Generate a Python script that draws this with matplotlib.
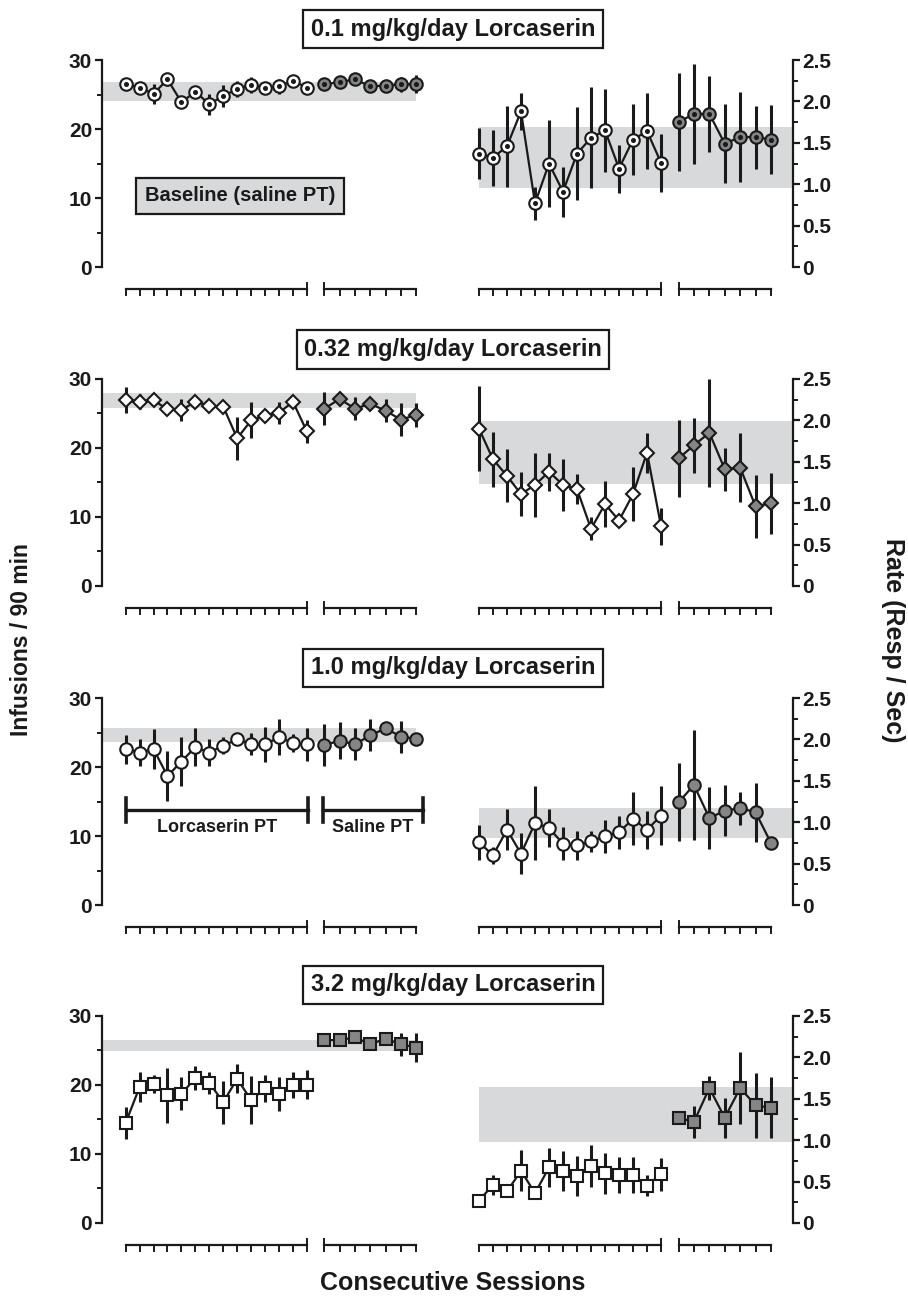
import numpy as np
import matplotlib
matplotlib.use("Agg")
import matplotlib.pyplot as plt

plt.rcParams['font.family'] = ['Liberation Sans', 'DejaVu Sans']
plt.rcParams['font.weight'] = 'bold'

# ---- data ----
titles = ["0.1 mg/kg/day Lorcaserin", "0.32 mg/kg/day Lorcaserin",
          "1.0 mg/kg/day Lorcaserin", "3.2 mg/kg/day Lorcaserin"]
markers = ['o', 'D', 'o', 's']

# infusions, lorcaserin PT (14 sessions) and saline PT (7 sessions)
inf_lorc = [
    [26.5, 26.0, 25.1, 27.2, 23.9, 25.4, 23.6, 24.8, 25.8, 26.4, 26.0, 26.2, 27.0, 26.0],
    [26.9, 26.7, 26.9, 25.6, 25.5, 26.7, 26.1, 26.0, 21.4, 24.0, 24.7, 25.1, 26.7, 22.4],
    [22.6, 22.1, 22.6, 18.7, 20.8, 22.9, 22.1, 23.1, 24.0, 23.3, 23.3, 24.3, 23.5, 23.3],
    [14.5, 19.7, 20.2, 18.5, 18.7, 21.0, 20.3, 17.5, 20.9, 17.8, 19.5, 18.7, 20.0, 20.0],
]
inf_lorc_err = [
    [0.5, 0.6, 1.4, 0.9, 0.9, 0.8, 1.5, 1.6, 1.2, 1.2, 0.6, 1.1, 0.7, 0.6],
    [1.9, 1.1, 0.5, 0.8, 1.6, 0.5, 0.5, 0.5, 3.1, 2.6, 1.0, 1.6, 0.5, 1.7],
    [2.1, 2.0, 2.9, 3.6, 3.5, 2.8, 2.0, 1.2, 0.8, 1.6, 2.5, 2.6, 1.3, 2.4],
    [2.3, 2.2, 1.3, 4.0, 2.4, 1.7, 1.6, 3.1, 2.1, 3.5, 2.0, 2.5, 1.9, 2.1],
]
inf_sal = [
    [26.5, 26.8, 27.2, 26.2, 26.3, 26.5, 26.5],
    [25.7, 27.1, 25.7, 26.4, 25.4, 24.1, 24.8],
    [23.2, 23.8, 23.3, 24.6, 25.6, 24.4, 24.1],
    [26.5, 26.5, 26.9, 25.9, 26.7, 25.9, 25.4],
]
inf_sal_err = [
    [0.9, 0.5, 0.7, 0.5, 0.5, 1.1, 1.3],
    [2.4, 0.5, 1.7, 0.6, 1.7, 2.4, 1.7],
    [3.1, 2.7, 2.3, 2.3, 0.5, 2.3, 0.4],
    [0.3, 0.3, 0.4, 0.8, 0.8, 1.7, 2.1],
]
inf_band = [(24.05, 26.85), (25.8, 27.95), (23.7, 25.6), (24.9, 26.45)]

# response rate
rate_lorc = [
    [1.37, 1.32, 1.46, 1.88, 0.77, 1.25, 0.91, 1.37, 1.56, 1.65, 1.19, 1.54, 1.64, 1.26],
    [1.90, 1.53, 1.33, 1.11, 1.22, 1.38, 1.22, 1.17, 0.69, 0.99, 0.79, 1.11, 1.61, 0.72],
    [0.76, 0.60, 0.91, 0.62, 0.99, 0.93, 0.74, 0.72, 0.77, 0.83, 0.88, 1.04, 0.91, 1.08],
    [0.27, 0.46, 0.38, 0.63, 0.36, 0.67, 0.63, 0.57, 0.69, 0.60, 0.58, 0.58, 0.45, 0.59],
]
rate_lorc_err = [
    [0.31, 0.34, 0.49, 0.22, 0.20, 0.52, 0.30, 0.56, 0.61, 0.50, 0.29, 0.43, 0.46, 0.35],
    [0.51, 0.33, 0.32, 0.27, 0.39, 0.23, 0.31, 0.18, 0.14, 0.28, 0.08, 0.33, 0.24, 0.22],
    [0.21, 0.10, 0.25, 0.25, 0.45, 0.23, 0.20, 0.17, 0.13, 0.20, 0.20, 0.32, 0.23, 0.36],
    [0.08, 0.12, 0.05, 0.25, 0.06, 0.24, 0.24, 0.24, 0.25, 0.25, 0.22, 0.22, 0.13, 0.20],
]
rate_sal = [
    [1.75, 1.85, 1.85, 1.49, 1.57, 1.57, 1.54],
    [1.54, 1.70, 1.85, 1.41, 1.43, 0.96, 1.00],
    [1.24, 1.45, 1.05, 1.14, 1.17, 1.12, 0.75],
    [1.27, 1.22, 1.63, 1.27, 1.63, 1.42, 1.39],
]
rate_sal_err = [
    [0.59, 0.60, 0.46, 0.48, 0.54, 0.38, 0.42],
    [0.46, 0.33, 0.65, 0.26, 0.42, 0.38, 0.37],
    [0.47, 0.67, 0.37, 0.31, 0.20, 0.36, 0.03],
    [0.08, 0.19, 0.14, 0.24, 0.43, 0.39, 0.37],
]
rate_band = [(0.96, 1.69), (1.23, 1.99), (0.81, 1.17), (0.98, 1.64)]

x_lorc = np.arange(14)
x_sal = 14.25 + 1.1 * np.arange(7)
XLIM = (-1.7, 22.4)

fig = plt.figure(figsize=(9.08, 12.97), dpi=100)

ink = '#1a1a1a'
band_col = '#d8d9da'
gray_fill = '#858585'
row_bottoms = [0.7941, 0.5482, 0.3022, 0.0571]
row_h = 0.1596
title_y = [0.9776, 0.7305, 0.4850, 0.2406]
TICK_FS = 15


def draw_xbrackets(ax):
    tr = ax.get_xaxis_transform()
    yl, dn, up = -0.106, 0.028, 0.03
    for xs, end_up in ((x_lorc, 'last'), (x_sal, 'first')):
        ax.plot([xs[0], xs[-1]], [yl, yl], color=ink, lw=1.6, transform=tr, clip_on=False)
        for i, xv in enumerate(xs):
            top = yl
            if (end_up == 'last' and i == len(xs) - 1) or (end_up == 'first' and i == 0):
                top = yl + up
            ax.plot([xv, xv], [yl - dn, top], color=ink, lw=1.4, transform=tr, clip_on=False)


def draw_series(ax, x, y, err, marker, fc, dot):
    ax.errorbar(x, y, yerr=err, fmt='-', color=ink, lw=1.6, elinewidth=2.2,
                capsize=0, zorder=3, clip_on=False)
    ms = {'o': 9, 'D': 7.5, 's': 8.5}[marker]
    ax.plot(x, y, marker, ms=ms, mfc=fc, mec=ink, mew=1.5, ls='none', zorder=4, clip_on=False)
    if dot:
        ax.plot(x, y, 'o', ms=2.6, color=ink, ls='none', zorder=5, clip_on=False)


for r in range(4):
    axL = fig.add_axes([0.1123, row_bottoms[r], 0.370, row_h])
    axR = fig.add_axes([0.5013, row_bottoms[r], 0.3717, row_h])
    dot = (r == 0)

    # left: infusions
    axL.axhspan(*inf_band[r], xmin=0, xmax=(20.85 - XLIM[0]) / (XLIM[1] - XLIM[0]),
                color=band_col, lw=0, zorder=0)
    draw_series(axL, x_lorc, inf_lorc[r], inf_lorc_err[r], markers[r], 'white', dot)
    draw_series(axL, x_sal, inf_sal[r], inf_sal_err[r], markers[r], gray_fill, dot)
    axL.set_xlim(*XLIM)
    axL.set_ylim(0, 30)
    axL.set_yticks([0, 10, 20, 30])
    axL.set_yticks([5, 15, 25], minor=True)
    axL.set_xticks([])
    for s in ('top', 'right', 'bottom'):
        axL.spines[s].set_visible(False)
    axL.spines['left'].set_linewidth(1.6)
    axL.spines['left'].set_color(ink)
    axL.tick_params(axis='y', which='major', length=5, width=1.6, labelsize=TICK_FS, colors=ink, pad=2)
    axL.tick_params(axis='y', which='minor', length=3.5, width=1.4, colors=ink)
    for lab in axL.get_yticklabels():
        lab.set_fontweight('bold')
    draw_xbrackets(axL)

    # right: rate
    axR.axhspan(*rate_band[r], xmin=(0 - XLIM[0]) / (XLIM[1] - XLIM[0]), xmax=1,
                color=band_col, lw=0, zorder=0)
    draw_series(axR, x_lorc, rate_lorc[r], rate_lorc_err[r], markers[r], 'white', dot)
    draw_series(axR, x_sal, rate_sal[r], rate_sal_err[r], markers[r], gray_fill, dot)
    axR.set_xlim(*XLIM)
    axR.set_ylim(0, 2.5)
    axR.set_yticks([0, 0.5, 1.0, 1.5, 2.0, 2.5])
    axR.set_yticklabels(['0', '0.5', '1.0', '1.5', '2.0', '2.5'])
    axR.set_yticks([0.25, 0.75, 1.25, 1.75, 2.25], minor=True)
    axR.set_xticks([])
    axR.yaxis.tick_right()
    for s in ('top', 'left', 'bottom'):
        axR.spines[s].set_visible(False)
    axR.spines['right'].set_linewidth(1.6)
    axR.spines['right'].set_color(ink)
    axR.tick_params(axis='y', which='major', length=5, width=1.6, labelsize=TICK_FS, colors=ink, pad=2)
    axR.tick_params(axis='y', which='minor', length=3.5, width=1.4, colors=ink)
    for lab in axR.get_yticklabels():
        lab.set_fontweight('bold')
    draw_xbrackets(axR)

    fig.text(0.4989, title_y[r], titles[r], ha='center', va='center', fontsize=17,
             fontweight='bold', color=ink,
             bbox=dict(boxstyle='square,pad=0.32', fc='white', ec=ink, lw=1.6))

    if r == 0:
        axL.text(8.2, 10.3, "Baseline (saline PT)", ha='center', va='center', fontsize=14.5,
                 fontweight='bold', color=ink,
                 bbox=dict(boxstyle='square,pad=0.42', fc=band_col, ec=ink, lw=1.6))
    if r == 2:
        for x0, x1, lab in ((0, 13.1, "Lorcaserin PT"), (14.15, 21.3, "Saline PT")):
            axL.plot([x0, x1], [13.8, 13.8], color=ink, lw=2.4, clip_on=False)
            axL.plot([x0, x0], [12.1, 15.5], color=ink, lw=2.6, clip_on=False)
            axL.plot([x1, x1], [12.1, 15.5], color=ink, lw=2.6, clip_on=False)
            axL.text((x0 + x1) / 2, 11.2, lab, ha='center', va='center', fontsize=13,
                     fontweight='bold', color=ink)

fig.text(0.024, 0.507, "Infusions / 90 min", rotation=90, ha='center', va='center',
         fontsize=16.5, fontweight='bold', color=ink)
fig.text(0.983, 0.506, "Rate (Resp / Sec)", rotation=-90, ha='center', va='center',
         fontsize=18, fontweight='bold', color=ink)
fig.text(0.4989, 0.0108, "Consecutive Sessions", ha='center', va='center',
         fontsize=18, fontweight='bold', color=ink)

fig.savefig("out.png", dpi=100)
